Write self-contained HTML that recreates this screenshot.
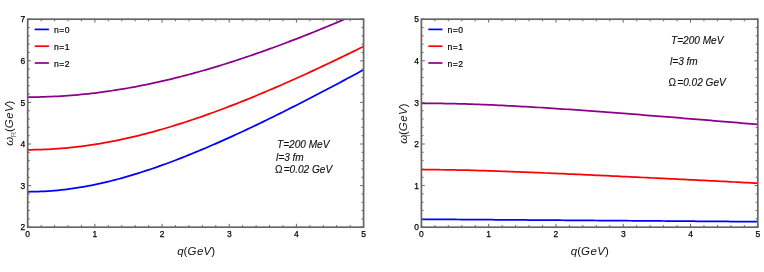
<!DOCTYPE html>
<html><head><meta charset="utf-8"><title>plot</title>
<style>
html,body{margin:0;padding:0;background:#fff;}
svg{display:block;will-change:transform;font-family:"Liberation Sans",sans-serif;}
.tk{font-size:9.4px;fill:#000;stroke:#000;stroke-width:0.25px;}
.lb{font-size:11.5px;fill:#111;}
.lg{font-size:8.6px;letter-spacing:0.5px;fill:#000;stroke:#000;stroke-width:0.2px;}
.an{font-size:10.1px;font-style:italic;fill:#111;stroke:#111;stroke-width:0.12px;}
</style></head><body>
<svg width="764" height="272" viewBox="0 0 764 272">
<rect width="764" height="272" fill="#fff"/>
<clipPath id="c27"><rect x="27.7" y="19.2" width="335.90000000000003" height="208.0"/></clipPath>
<polyline clip-path="url(#c27)" points="27.70,191.76 31.06,191.74 34.42,191.68 37.78,191.59 41.14,191.46 44.50,191.30 47.85,191.09 51.21,190.86 54.57,190.58 57.93,190.27 61.29,189.92 64.65,189.54 68.01,189.13 71.37,188.68 74.73,188.19 78.09,187.67 81.44,187.12 84.80,186.53 88.16,185.92 91.52,185.27 94.88,184.59 98.24,183.87 101.60,183.13 104.96,182.36 108.32,181.56 111.68,180.73 115.03,179.87 118.39,178.98 121.75,178.07 125.11,177.13 128.47,176.16 131.83,175.17 135.19,174.15 138.55,173.11 141.91,172.04 145.27,170.95 148.62,169.84 151.98,168.71 155.34,167.55 158.70,166.38 162.06,165.18 165.42,163.96 168.78,162.73 172.14,161.47 175.50,160.20 178.86,158.90 182.21,157.59 185.57,156.27 188.93,154.92 192.29,153.56 195.65,152.18 199.01,150.79 202.37,149.38 205.73,147.96 209.09,146.52 212.44,145.07 215.80,143.61 219.16,142.13 222.52,140.64 225.88,139.13 229.24,137.62 232.60,136.09 235.96,134.55 239.32,133.00 242.68,131.44 246.04,129.87 249.39,128.28 252.75,126.69 256.11,125.09 259.47,123.47 262.83,121.85 266.19,120.22 269.55,118.58 272.91,116.93 276.27,115.27 279.62,113.60 282.98,111.93 286.34,110.25 289.70,108.56 293.06,106.86 296.42,105.16 299.78,103.44 303.14,101.73 306.50,100.00 309.86,98.27 313.22,96.53 316.57,94.78 319.93,93.03 323.29,91.28 326.65,89.51 330.01,87.74 333.37,85.97 336.73,84.19 340.09,82.41 343.45,80.61 346.81,78.82 350.16,77.02 353.52,75.21 356.88,73.40 360.24,71.59 363.60,69.77" fill="none" stroke="#0000ff" stroke-width="1.75" stroke-linejoin="round"/>
<polyline clip-path="url(#c27)" points="27.70,149.78 31.06,149.77 34.42,149.73 37.78,149.66 41.14,149.56 44.50,149.44 47.85,149.29 51.21,149.11 54.57,148.91 57.93,148.68 61.29,148.42 64.65,148.14 68.01,147.83 71.37,147.49 74.73,147.13 78.09,146.74 81.44,146.32 84.80,145.88 88.16,145.41 91.52,144.92 94.88,144.41 98.24,143.87 101.60,143.30 104.96,142.71 108.32,142.10 111.68,141.46 115.03,140.80 118.39,140.11 121.75,139.41 125.11,138.68 128.47,137.92 131.83,137.15 135.19,136.35 138.55,135.53 141.91,134.70 145.27,133.84 148.62,132.96 151.98,132.06 155.34,131.14 158.70,130.19 162.06,129.24 165.42,128.26 168.78,127.26 172.14,126.24 175.50,125.21 178.86,124.16 182.21,123.09 185.57,122.00 188.93,120.90 192.29,119.78 195.65,118.64 199.01,117.49 202.37,116.32 205.73,115.14 209.09,113.94 212.44,112.73 215.80,111.50 219.16,110.25 222.52,109.00 225.88,107.73 229.24,106.44 232.60,105.14 235.96,103.83 239.32,102.51 242.68,101.17 246.04,99.82 249.39,98.46 252.75,97.09 256.11,95.71 259.47,94.31 262.83,92.90 266.19,91.49 269.55,90.06 272.91,88.62 276.27,87.17 279.62,85.71 282.98,84.24 286.34,82.76 289.70,81.27 293.06,79.77 296.42,78.26 299.78,76.74 303.14,75.22 306.50,73.68 309.86,72.14 313.22,70.59 316.57,69.03 319.93,67.46 323.29,65.89 326.65,64.30 330.01,62.71 333.37,61.11 336.73,59.51 340.09,57.89 343.45,56.27 346.81,54.65 350.16,53.01 353.52,51.37 356.88,49.73 360.24,48.07 363.60,46.41" fill="none" stroke="#ff0000" stroke-width="1.75" stroke-linejoin="round"/>
<polyline clip-path="url(#c27)" points="27.70,97.12 31.06,97.11 34.42,97.08 37.78,97.02 41.14,96.95 44.50,96.86 47.85,96.74 51.21,96.61 54.57,96.46 57.93,96.28 61.29,96.08 64.65,95.87 68.01,95.63 71.37,95.38 74.73,95.10 78.09,94.80 81.44,94.48 84.80,94.15 88.16,93.79 91.52,93.41 94.88,93.02 98.24,92.60 101.60,92.17 104.96,91.71 108.32,91.24 111.68,90.75 115.03,90.23 118.39,89.70 121.75,89.15 125.11,88.59 128.47,88.00 131.83,87.40 135.19,86.77 138.55,86.13 141.91,85.48 145.27,84.80 148.62,84.11 151.98,83.40 155.34,82.67 158.70,81.92 162.06,81.16 165.42,80.38 168.78,79.59 172.14,78.78 175.50,77.95 178.86,77.11 182.21,76.25 185.57,75.37 188.93,74.48 192.29,73.58 195.65,72.66 199.01,71.72 202.37,70.77 205.73,69.81 209.09,68.83 212.44,67.83 215.80,66.83 219.16,65.80 222.52,64.77 225.88,63.72 229.24,62.66 232.60,61.58 235.96,60.49 239.32,59.39 242.68,58.28 246.04,57.15 249.39,56.01 252.75,54.86 256.11,53.70 259.47,52.52 262.83,51.34 266.19,50.14 269.55,48.93 272.91,47.71 276.27,46.48 279.62,45.24 282.98,43.98 286.34,42.72 289.70,41.44 293.06,40.16 296.42,38.86 299.78,37.56 303.14,36.24 306.50,34.92 309.86,33.58 313.22,32.24 316.57,30.89 319.93,29.52 323.29,28.15 326.65,26.77 330.01,25.38 333.37,23.99 336.73,22.58 340.09,21.16 343.45,19.74 346.81,18.31 350.16,16.87 353.52,15.42 356.88,13.97 360.24,12.51 363.60,11.04" fill="none" stroke="#8b008b" stroke-width="1.75" stroke-linejoin="round"/>
<path d="M27.70 227.2v-3.4M27.70 19.2v3.4M41.14 227.2v-2.1M41.14 19.2v2.1M54.57 227.2v-2.1M54.57 19.2v2.1M68.01 227.2v-2.1M68.01 19.2v2.1M81.44 227.2v-2.1M81.44 19.2v2.1M94.88 227.2v-3.4M94.88 19.2v3.4M108.32 227.2v-2.1M108.32 19.2v2.1M121.75 227.2v-2.1M121.75 19.2v2.1M135.19 227.2v-2.1M135.19 19.2v2.1M148.62 227.2v-2.1M148.62 19.2v2.1M162.06 227.2v-3.4M162.06 19.2v3.4M175.50 227.2v-2.1M175.50 19.2v2.1M188.93 227.2v-2.1M188.93 19.2v2.1M202.37 227.2v-2.1M202.37 19.2v2.1M215.80 227.2v-2.1M215.80 19.2v2.1M229.24 227.2v-3.4M229.24 19.2v3.4M242.68 227.2v-2.1M242.68 19.2v2.1M256.11 227.2v-2.1M256.11 19.2v2.1M269.55 227.2v-2.1M269.55 19.2v2.1M282.98 227.2v-2.1M282.98 19.2v2.1M296.42 227.2v-3.4M296.42 19.2v3.4M309.86 227.2v-2.1M309.86 19.2v2.1M323.29 227.2v-2.1M323.29 19.2v2.1M336.73 227.2v-2.1M336.73 19.2v2.1M350.16 227.2v-2.1M350.16 19.2v2.1M363.60 227.2v-3.4M363.60 19.2v3.4M27.7 227.20h3.4M363.6 227.20h-3.4M27.7 218.88h2.1M363.6 218.88h-2.1M27.7 210.56h2.1M363.6 210.56h-2.1M27.7 202.24h2.1M363.6 202.24h-2.1M27.7 193.92h2.1M363.6 193.92h-2.1M27.7 185.60h3.4M363.6 185.60h-3.4M27.7 177.28h2.1M363.6 177.28h-2.1M27.7 168.96h2.1M363.6 168.96h-2.1M27.7 160.64h2.1M363.6 160.64h-2.1M27.7 152.32h2.1M363.6 152.32h-2.1M27.7 144.00h3.4M363.6 144.00h-3.4M27.7 135.68h2.1M363.6 135.68h-2.1M27.7 127.36h2.1M363.6 127.36h-2.1M27.7 119.04h2.1M363.6 119.04h-2.1M27.7 110.72h2.1M363.6 110.72h-2.1M27.7 102.40h3.4M363.6 102.40h-3.4M27.7 94.08h2.1M363.6 94.08h-2.1M27.7 85.76h2.1M363.6 85.76h-2.1M27.7 77.44h2.1M363.6 77.44h-2.1M27.7 69.12h2.1M363.6 69.12h-2.1M27.7 60.80h3.4M363.6 60.80h-3.4M27.7 52.48h2.1M363.6 52.48h-2.1M27.7 44.16h2.1M363.6 44.16h-2.1M27.7 35.84h2.1M363.6 35.84h-2.1M27.7 27.52h2.1M363.6 27.52h-2.1M27.7 19.20h3.4M363.6 19.20h-3.4" stroke="#666" stroke-width="1" fill="none"/>
<rect x="27.7" y="19.2" width="335.90000000000003" height="208.0" fill="none" stroke="#666" stroke-width="1.7"/>
<text x="27.70" y="237.0" text-anchor="middle" class="tk" textLength="4.7" lengthAdjust="spacingAndGlyphs">0</text>
<text x="94.88" y="237.0" text-anchor="middle" class="tk" textLength="4.7" lengthAdjust="spacingAndGlyphs">1</text>
<text x="162.06" y="237.0" text-anchor="middle" class="tk" textLength="4.7" lengthAdjust="spacingAndGlyphs">2</text>
<text x="229.24" y="237.0" text-anchor="middle" class="tk" textLength="4.7" lengthAdjust="spacingAndGlyphs">3</text>
<text x="296.42" y="237.0" text-anchor="middle" class="tk" textLength="4.7" lengthAdjust="spacingAndGlyphs">4</text>
<text x="363.60" y="237.0" text-anchor="middle" class="tk" textLength="4.7" lengthAdjust="spacingAndGlyphs">5</text>
<text x="25.3" y="230.40" text-anchor="end" class="tk" textLength="4.7" lengthAdjust="spacingAndGlyphs">2</text>
<text x="25.3" y="188.80" text-anchor="end" class="tk" textLength="4.7" lengthAdjust="spacingAndGlyphs">3</text>
<text x="25.3" y="147.20" text-anchor="end" class="tk" textLength="4.7" lengthAdjust="spacingAndGlyphs">4</text>
<text x="25.3" y="105.60" text-anchor="end" class="tk" textLength="4.7" lengthAdjust="spacingAndGlyphs">5</text>
<text x="25.3" y="64.00" text-anchor="end" class="tk" textLength="4.7" lengthAdjust="spacingAndGlyphs">6</text>
<text x="25.3" y="22.40" text-anchor="end" class="tk" textLength="4.7" lengthAdjust="spacingAndGlyphs">7</text>
<text x="177.2" y="254.7" class="lb"><tspan font-style="italic">q</tspan>(<tspan font-style="italic">G<tspan dx="0.5">e</tspan><tspan dx="0.3">V</tspan></tspan>)</text>
<text transform="translate(13,145.8) rotate(-90)" class="lb"><tspan font-style="italic">ω</tspan><tspan x="8.2" dy="3.2" font-size="8" fill="#777">R</tspan><tspan x="13.7" dy="-3.2">(</tspan><tspan font-style="italic">G<tspan dx="0.5">e</tspan><tspan dx="0.3">V</tspan></tspan>)</text>
<line x1="34.7" x2="48.900000000000006" y1="29.4" y2="29.4" stroke="#0000ff" stroke-width="1.7"/>
<text x="53.900000000000006" y="33.1" class="lg">n=0</text>
<line x1="34.7" x2="48.900000000000006" y1="46.2" y2="46.2" stroke="#ff0000" stroke-width="1.7"/>
<text x="53.900000000000006" y="49.900000000000006" class="lg">n=1</text>
<line x1="34.7" x2="48.900000000000006" y1="63.0" y2="63.0" stroke="#8b008b" stroke-width="1.7"/>
<text x="53.900000000000006" y="66.7" class="lg">n=2</text>
<text x="277" y="147.8" class="an">T=200 MeV</text>
<text x="276" y="160.6" class="an">l=3 fm</text>
<text x="275" y="173.4" class="an"><tspan font-style="normal">Ω</tspan><tspan dx="1.1">=</tspan>0.02 GeV</text>
<clipPath id="c421"><rect x="421.4" y="19.2" width="336.4" height="208.0"/></clipPath>
<polyline clip-path="url(#c421)" points="421.40,219.34 424.76,219.34 428.13,219.35 431.49,219.36 434.86,219.37 438.22,219.38 441.58,219.40 444.95,219.42 448.31,219.44 451.68,219.46 455.04,219.48 458.40,219.50 461.77,219.52 465.13,219.55 468.50,219.57 471.86,219.59 475.22,219.62 478.59,219.64 481.95,219.66 485.32,219.69 488.68,219.71 492.04,219.74 495.41,219.76 498.77,219.78 502.14,219.81 505.50,219.83 508.86,219.86 512.23,219.88 515.59,219.91 518.96,219.93 522.32,219.96 525.68,219.98 529.05,220.01 532.41,220.03 535.78,220.06 539.14,220.08 542.50,220.11 545.87,220.13 549.23,220.15 552.60,220.18 555.96,220.20 559.32,220.23 562.69,220.25 566.05,220.28 569.42,220.30 572.78,220.33 576.14,220.35 579.51,220.38 582.87,220.40 586.24,220.43 589.60,220.45 592.96,220.48 596.33,220.50 599.69,220.53 603.06,220.55 606.42,220.58 609.78,220.60 613.15,220.63 616.51,220.65 619.88,220.68 623.24,220.70 626.60,220.73 629.97,220.75 633.33,220.78 636.70,220.80 640.06,220.83 643.42,220.85 646.79,220.88 650.15,220.90 653.52,220.93 656.88,220.95 660.24,220.98 663.61,221.00 666.97,221.03 670.34,221.06 673.70,221.08 677.06,221.11 680.43,221.13 683.79,221.16 687.16,221.18 690.52,221.21 693.88,221.23 697.25,221.26 700.61,221.28 703.98,221.31 707.34,221.33 710.70,221.36 714.07,221.38 717.43,221.41 720.80,221.43 724.16,221.46 727.52,221.48 730.89,221.51 734.25,221.53 737.62,221.56 740.98,221.58 744.34,221.61 747.71,221.63 751.07,221.66 754.44,221.68 757.80,221.71" fill="none" stroke="#0000ff" stroke-width="1.75" stroke-linejoin="round"/>
<polyline clip-path="url(#c421)" points="421.40,169.63 424.76,169.63 428.13,169.64 431.49,169.66 434.86,169.68 438.22,169.71 441.58,169.75 444.95,169.79 448.31,169.84 451.68,169.89 455.04,169.95 458.40,170.02 461.77,170.09 465.13,170.16 468.50,170.24 471.86,170.33 475.22,170.42 478.59,170.51 481.95,170.61 485.32,170.71 488.68,170.82 492.04,170.93 495.41,171.04 498.77,171.15 502.14,171.27 505.50,171.39 508.86,171.51 512.23,171.64 515.59,171.77 518.96,171.90 522.32,172.03 525.68,172.16 529.05,172.30 532.41,172.43 535.78,172.57 539.14,172.71 542.50,172.85 545.87,173.00 549.23,173.14 552.60,173.29 555.96,173.43 559.32,173.58 562.69,173.73 566.05,173.88 569.42,174.03 572.78,174.18 576.14,174.33 579.51,174.48 582.87,174.64 586.24,174.79 589.60,174.95 592.96,175.10 596.33,175.26 599.69,175.42 603.06,175.58 606.42,175.73 609.78,175.89 613.15,176.05 616.51,176.21 619.88,176.37 623.24,176.53 626.60,176.69 629.97,176.86 633.33,177.02 636.70,177.18 640.06,177.34 643.42,177.50 646.79,177.67 650.15,177.83 653.52,178.00 656.88,178.16 660.24,178.32 663.61,178.49 666.97,178.65 670.34,178.82 673.70,178.99 677.06,179.15 680.43,179.32 683.79,179.48 687.16,179.65 690.52,179.82 693.88,179.98 697.25,180.15 700.61,180.32 703.98,180.48 707.34,180.65 710.70,180.82 714.07,180.99 717.43,181.16 720.80,181.32 724.16,181.49 727.52,181.66 730.89,181.83 734.25,182.00 737.62,182.17 740.98,182.34 744.34,182.51 747.71,182.68 751.07,182.84 754.44,183.01 757.80,183.18" fill="none" stroke="#ff0000" stroke-width="1.75" stroke-linejoin="round"/>
<polyline clip-path="url(#c421)" points="421.40,103.32 424.76,103.32 428.13,103.33 431.49,103.35 434.86,103.38 438.22,103.42 441.58,103.46 444.95,103.51 448.31,103.57 451.68,103.64 455.04,103.71 458.40,103.79 461.77,103.88 465.13,103.98 468.50,104.08 471.86,104.19 475.22,104.31 478.59,104.43 481.95,104.56 485.32,104.69 488.68,104.83 492.04,104.97 495.41,105.13 498.77,105.28 502.14,105.44 505.50,105.61 508.86,105.78 512.23,105.95 515.59,106.13 518.96,106.32 522.32,106.51 525.68,106.70 529.05,106.89 532.41,107.09 535.78,107.30 539.14,107.50 542.50,107.71 545.87,107.92 549.23,108.14 552.60,108.36 555.96,108.58 559.32,108.80 562.69,109.03 566.05,109.25 569.42,109.49 572.78,109.72 576.14,109.95 579.51,110.19 582.87,110.43 586.24,110.67 589.60,110.91 592.96,111.16 596.33,111.41 599.69,111.65 603.06,111.90 606.42,112.15 609.78,112.41 613.15,112.66 616.51,112.92 619.88,113.17 623.24,113.43 626.60,113.69 629.97,113.95 633.33,114.21 636.70,114.48 640.06,114.74 643.42,115.01 646.79,115.27 650.15,115.54 653.52,115.81 656.88,116.08 660.24,116.35 663.61,116.62 666.97,116.89 670.34,117.16 673.70,117.43 677.06,117.71 680.43,117.98 683.79,118.26 687.16,118.53 690.52,118.81 693.88,119.08 697.25,119.36 700.61,119.64 703.98,119.92 707.34,120.20 710.70,120.48 714.07,120.76 717.43,121.04 720.80,121.32 724.16,121.60 727.52,121.89 730.89,122.17 734.25,122.45 737.62,122.74 740.98,123.02 744.34,123.31 747.71,123.59 751.07,123.88 754.44,124.16 757.80,124.45" fill="none" stroke="#8b008b" stroke-width="1.75" stroke-linejoin="round"/>
<path d="M421.40 227.2v-3.4M421.40 19.2v3.4M434.86 227.2v-2.1M434.86 19.2v2.1M448.31 227.2v-2.1M448.31 19.2v2.1M461.77 227.2v-2.1M461.77 19.2v2.1M475.22 227.2v-2.1M475.22 19.2v2.1M488.68 227.2v-3.4M488.68 19.2v3.4M502.14 227.2v-2.1M502.14 19.2v2.1M515.59 227.2v-2.1M515.59 19.2v2.1M529.05 227.2v-2.1M529.05 19.2v2.1M542.50 227.2v-2.1M542.50 19.2v2.1M555.96 227.2v-3.4M555.96 19.2v3.4M569.42 227.2v-2.1M569.42 19.2v2.1M582.87 227.2v-2.1M582.87 19.2v2.1M596.33 227.2v-2.1M596.33 19.2v2.1M609.78 227.2v-2.1M609.78 19.2v2.1M623.24 227.2v-3.4M623.24 19.2v3.4M636.70 227.2v-2.1M636.70 19.2v2.1M650.15 227.2v-2.1M650.15 19.2v2.1M663.61 227.2v-2.1M663.61 19.2v2.1M677.06 227.2v-2.1M677.06 19.2v2.1M690.52 227.2v-3.4M690.52 19.2v3.4M703.98 227.2v-2.1M703.98 19.2v2.1M717.43 227.2v-2.1M717.43 19.2v2.1M730.89 227.2v-2.1M730.89 19.2v2.1M744.34 227.2v-2.1M744.34 19.2v2.1M757.80 227.2v-3.4M757.80 19.2v3.4M421.4 227.20h3.4M757.8 227.20h-3.4M421.4 218.88h2.1M757.8 218.88h-2.1M421.4 210.56h2.1M757.8 210.56h-2.1M421.4 202.24h2.1M757.8 202.24h-2.1M421.4 193.92h2.1M757.8 193.92h-2.1M421.4 185.60h3.4M757.8 185.60h-3.4M421.4 177.28h2.1M757.8 177.28h-2.1M421.4 168.96h2.1M757.8 168.96h-2.1M421.4 160.64h2.1M757.8 160.64h-2.1M421.4 152.32h2.1M757.8 152.32h-2.1M421.4 144.00h3.4M757.8 144.00h-3.4M421.4 135.68h2.1M757.8 135.68h-2.1M421.4 127.36h2.1M757.8 127.36h-2.1M421.4 119.04h2.1M757.8 119.04h-2.1M421.4 110.72h2.1M757.8 110.72h-2.1M421.4 102.40h3.4M757.8 102.40h-3.4M421.4 94.08h2.1M757.8 94.08h-2.1M421.4 85.76h2.1M757.8 85.76h-2.1M421.4 77.44h2.1M757.8 77.44h-2.1M421.4 69.12h2.1M757.8 69.12h-2.1M421.4 60.80h3.4M757.8 60.80h-3.4M421.4 52.48h2.1M757.8 52.48h-2.1M421.4 44.16h2.1M757.8 44.16h-2.1M421.4 35.84h2.1M757.8 35.84h-2.1M421.4 27.52h2.1M757.8 27.52h-2.1M421.4 19.20h3.4M757.8 19.20h-3.4" stroke="#666" stroke-width="1" fill="none"/>
<rect x="421.4" y="19.2" width="336.4" height="208.0" fill="none" stroke="#666" stroke-width="1.7"/>
<text x="421.40" y="237.0" text-anchor="middle" class="tk" textLength="4.7" lengthAdjust="spacingAndGlyphs">0</text>
<text x="488.68" y="237.0" text-anchor="middle" class="tk" textLength="4.7" lengthAdjust="spacingAndGlyphs">1</text>
<text x="555.96" y="237.0" text-anchor="middle" class="tk" textLength="4.7" lengthAdjust="spacingAndGlyphs">2</text>
<text x="623.24" y="237.0" text-anchor="middle" class="tk" textLength="4.7" lengthAdjust="spacingAndGlyphs">3</text>
<text x="690.52" y="237.0" text-anchor="middle" class="tk" textLength="4.7" lengthAdjust="spacingAndGlyphs">4</text>
<text x="757.80" y="237.0" text-anchor="middle" class="tk" textLength="4.7" lengthAdjust="spacingAndGlyphs">5</text>
<text x="419.0" y="230.40" text-anchor="end" class="tk" textLength="4.7" lengthAdjust="spacingAndGlyphs">0</text>
<text x="419.0" y="188.80" text-anchor="end" class="tk" textLength="4.7" lengthAdjust="spacingAndGlyphs">1</text>
<text x="419.0" y="147.20" text-anchor="end" class="tk" textLength="4.7" lengthAdjust="spacingAndGlyphs">2</text>
<text x="419.0" y="105.60" text-anchor="end" class="tk" textLength="4.7" lengthAdjust="spacingAndGlyphs">3</text>
<text x="419.0" y="64.00" text-anchor="end" class="tk" textLength="4.7" lengthAdjust="spacingAndGlyphs">4</text>
<text x="419.0" y="22.40" text-anchor="end" class="tk" textLength="4.7" lengthAdjust="spacingAndGlyphs">5</text>
<text x="570.8" y="254.7" class="lb"><tspan font-style="italic">q</tspan>(<tspan font-style="italic">G<tspan dx="0.5">e</tspan><tspan dx="0.3">V</tspan></tspan>)</text>
<text transform="translate(407,143.8) rotate(-90)" class="lb"><tspan font-style="italic">ω</tspan><tspan x="7.0" dy="3.2" font-size="8" fill="#777">I</tspan><tspan x="8.8" dy="-3.2">(</tspan><tspan font-style="italic">G<tspan dx="0.5">e</tspan><tspan dx="0.3">V</tspan></tspan>)</text>
<line x1="428.3" x2="442.5" y1="29.4" y2="29.4" stroke="#0000ff" stroke-width="1.7"/>
<text x="447.5" y="33.1" class="lg">n=0</text>
<line x1="428.3" x2="442.5" y1="46.2" y2="46.2" stroke="#ff0000" stroke-width="1.7"/>
<text x="447.5" y="49.900000000000006" class="lg">n=1</text>
<line x1="428.3" x2="442.5" y1="63.0" y2="63.0" stroke="#8b008b" stroke-width="1.7"/>
<text x="447.5" y="66.7" class="lg">n=2</text>
<text x="671" y="43.7" class="an">T=200 MeV</text>
<text x="670" y="64.8" class="an">l=3 fm</text>
<text x="668.6" y="85.5" class="an"><tspan font-style="normal">Ω</tspan><tspan dx="1.1">=</tspan>0.02 GeV</text>
</svg>
</body></html>
